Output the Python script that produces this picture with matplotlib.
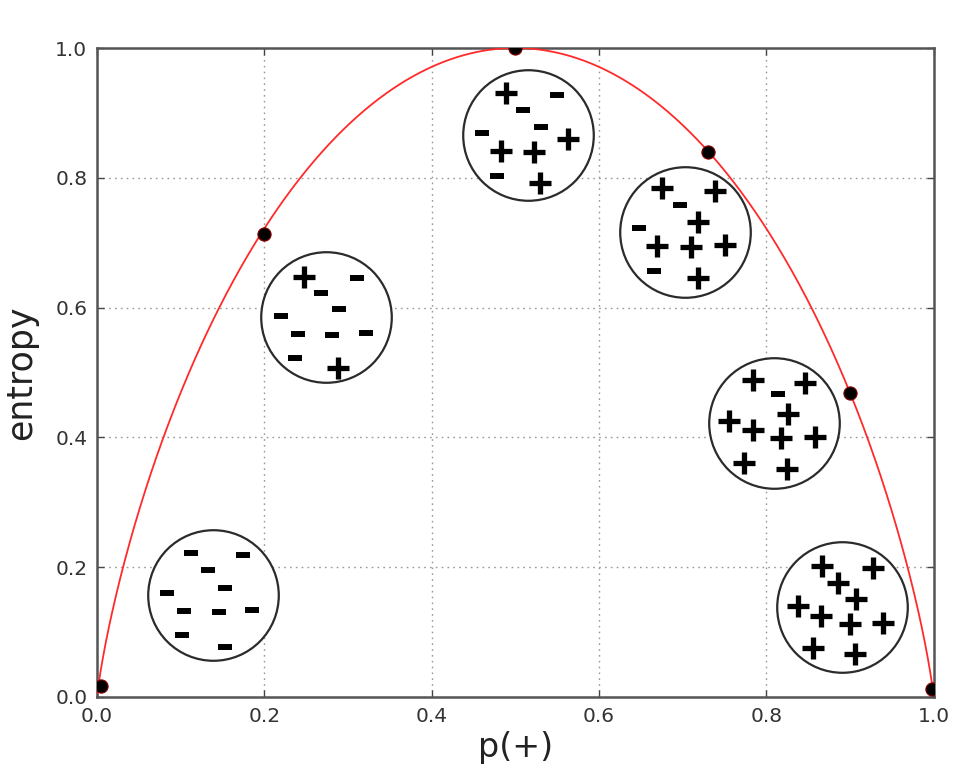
import numpy as np
import matplotlib
matplotlib.use("Agg")
import matplotlib.pyplot as plt
from matplotlib.transforms import offset_copy

# sample points on the entropy curve
p_points = [0.005, 0.2, 0.5, 0.73, 0.9, 0.998]
h_points = [0.017, 0.713, 1.0, 0.84, 0.468, 0.012]

x_ticks = [0.0, 0.2, 0.4, 0.6, 0.8, 1.0]
y_ticks = [0.0, 0.2, 0.4, 0.6, 0.8, 1.0]

# binary entropy curve H(p)
p_curve = np.linspace(0.0005, 0.9995, 800)
h_curve = -p_curve * np.log2(p_curve) - (1 - p_curve) * np.log2(1 - p_curve)

# bags of examples: centre (data coords) and signs with pixel offsets
bags = [
    ((0.1382, 0.1572), [
        ('-', -21.5, -42), ('-', 30, -40), ('-', -5, -25), ('-', 12.5, -7),
        ('-', -45.5, -2), ('-', -29, 16), ('-', 6, 17), ('-', 39.5, 15),
        ('-', -31, 40), ('-', 12, 52)]),
    ((0.2739, 0.5855), [
        ('+', -22, -40), ('-', 30.5, -39), ('-', -5, -24), ('-', 13, -8),
        ('-', -45, -1), ('-', -28, 17), ('-', 6, 18), ('-', 40, 16),
        ('-', -31, 41), ('+', 12, 50.5)]),
    ((0.5156, 0.8659), [
        ('+', -22, -42), ('-', 29, -40), ('-', -5, -25), ('-', 13, -8),
        ('-', -46, -2), ('+', -27, 15.5), ('+', 6, 16.5), ('+', 40, 4),
        ('-', -31, 41), ('+', 12, 48)]),
    ((0.7033, 0.7165), [
        ('+', -23, -44), ('+', 30, -41), ('-', -5, -27), ('+', 13, -10),
        ('-', -46, -4), ('+', -28, 14), ('+', 6, 15), ('+', 40, 13),
        ('-', -31, 39), ('+', 13, 46)]),
    ((0.8098, 0.4222), [
        ('+', -21, -43), ('+', 31, -40), ('-', 4, -29), ('+', 14, -9),
        ('+', -45, -2), ('+', -21, 7), ('+', 7, 15), ('+', 41, 14),
        ('+', -30, 40), ('+', 13, 46)]),
    ((0.8900, 0.1387), [
        ('+', -20, -41), ('+', 31, -39), ('+', -4, -24), ('+', 14, -8),
        ('+', -44, -1), ('+', -21, 9), ('+', 8, 17), ('+', 41, 16),
        ('+', -29, 41), ('+', 13, 47)]),
]

fig = plt.figure(figsize=(9.77, 7.81), dpi=100)
ax = fig.add_axes([0.0993, 0.1076, 0.8563, 0.8309])

ax.plot(p_curve, h_curve, color='#ff2a2a', linewidth=1.3, zorder=3)
ax.plot(p_points, h_points, 'o', color='black', markeredgecolor='#8b0000',
        markersize=9.5, markeredgewidth=0.8, zorder=5)

for (cx, cy), signs in bags:
    ax.plot(cx, cy, 'o', markersize=94, markerfacecolor='white',
            markeredgecolor='#2b2b2b', markeredgewidth=1.6, zorder=4)
    for s, dx, dy in signs:
        tr = offset_copy(ax.transData, fig=fig, x=dx, y=-dy, units='dots')
        if s == '+':
            ax.plot(cx, cy, marker='+', markersize=16, markeredgewidth=3.8,
                    color='black', transform=tr, zorder=6)
        else:
            ax.plot(cx, cy, marker='_', markersize=9.5, markeredgewidth=4.3,
                    color='black', transform=tr, zorder=6)

ax.set_xlim(0, 1)
ax.set_ylim(0, 1)
ax.set_xticks(x_ticks)
ax.set_yticks(y_ticks)
ax.set_xticklabels([f"{t:.1f}" for t in x_ticks])
ax.set_yticklabels([f"{t:.1f}" for t in y_ticks])
ax.grid(True, linestyle=(0, (1.2, 3)), color='#999999', linewidth=1.0)
ax.set_axisbelow(True)
ax.tick_params(direction='in', top=True, right=True, length=5, width=1,
               color='#444444', labelsize=14.5, labelcolor='#333333', pad=7)
for spine in ax.spines.values():
    spine.set_color('#555555')
    spine.set_linewidth(1.8)

ax.set_xlabel('p(+)', fontsize=24, color='#222222', labelpad=4)
ax.set_ylabel('entropy', fontsize=25, color='#222222', labelpad=12)

fig.savefig('out.png', dpi=100, facecolor='white')
